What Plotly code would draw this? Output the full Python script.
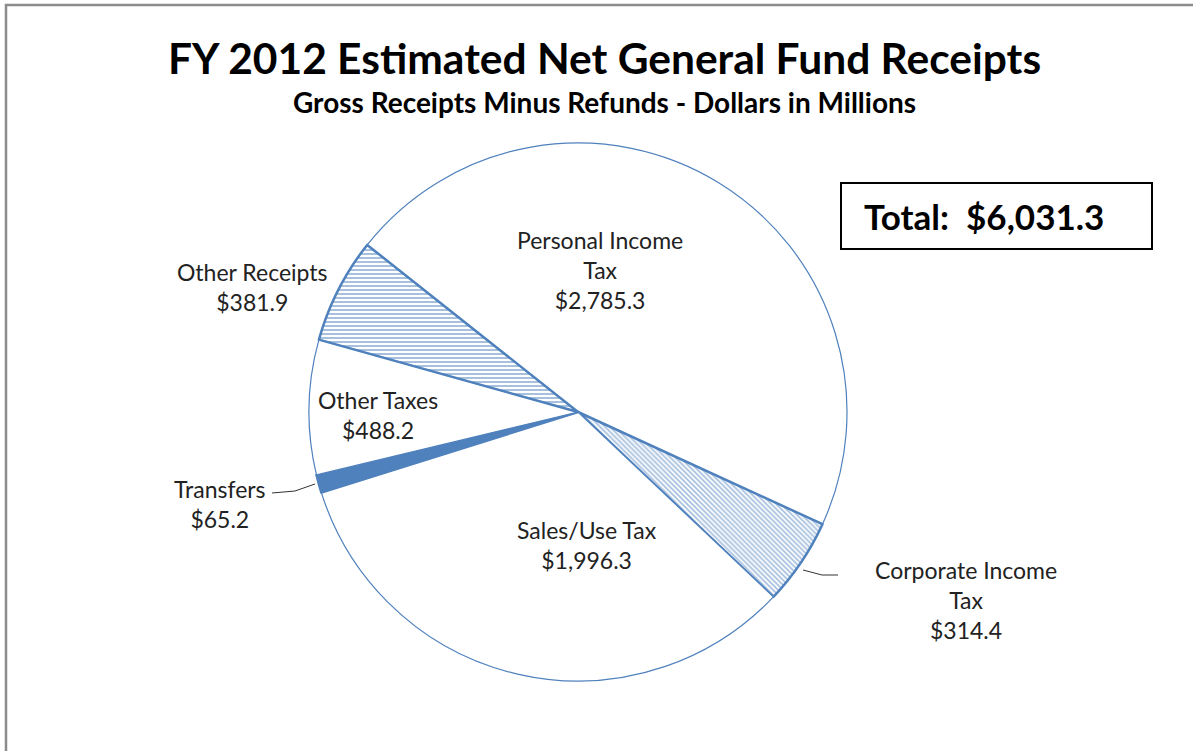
import plotly.graph_objects as go

# Net general fund receipts, $ millions
categories = ["Personal Income Tax", "Corporate Income Tax", "Sales/Use Tax",
              "Transfers", "Other Taxes", "Other Receipts"]
values = [2785.3, 314.4, 1996.3, 65.2, 488.2, 381.9]
total = 6031.3

W, H = 1193, 751
BLUE = "#4F81BD"

def px(x):
    return x / W

def py(y):
    return 1 - y / H

cx, cy, r = 578, 412, 269

fig = go.Figure()
fig.add_trace(go.Pie(
    labels=categories,
    values=values,
    sort=False,
    direction="clockwise",
    rotation=-51.6,
    textinfo="none",
    hoverinfo="label+value",
    showlegend=False,
    domain=dict(x=[px(cx - r), px(cx + r)], y=[py(cy + r), py(cy - r)]),
    marker=dict(
        colors=["white", "white", "white", BLUE, "white", "white"],
        line=dict(color=BLUE, width=[1.2, 2.5, 1.2, 2.5, 1.2, 2.5]),
        pattern=dict(
            shape=["", "\\", "", "", "", "-"],
            fgcolor=BLUE,
            bgcolor="white",
            size=[6, 3.5, 6, 6, 6, 4],
            solidity=0.5,
            fillmode="overlay",
        ),
    ),
))

def fmt(v):
    return "${:,.1f}".format(v)

label_font = dict(family="Lato, Open Sans, sans-serif", size=23, color="#222222")
label_specs = [
    ("Personal Income<br>Tax<br>" + fmt(values[0]), 600, 270),
    ("Corporate Income<br>Tax<br>" + fmt(values[1]), 966, 600),
    ("Sales/Use Tax<br>" + fmt(values[2]), 587, 545),
    ("Transfers<br>" + fmt(values[3]), 220, 504),
    ("Other Taxes<br>" + fmt(values[4]), 378, 415),
    ("Other Receipts<br>" + fmt(values[5]), 252, 287),
]
for text, x, y in label_specs:
    fig.add_annotation(x=px(x), y=py(y), xref="paper", yref="paper", text=text,
                       showarrow=False, align="center", font=label_font,
                       xanchor="center", yanchor="middle")

# leader lines
fig.add_shape(type="path", xref="paper", yref="paper",
              path=f"M {px(272)} {py(493)} L {px(295)} {py(491)} L {px(315)} {py(484)}",
              line=dict(color="#333333", width=1))
fig.add_shape(type="path", xref="paper", yref="paper",
              path=f"M {px(803)} {py(570)} L {px(822)} {py(575)} L {px(838)} {py(575)}",
              line=dict(color="#333333", width=1))

# total box
fig.add_shape(type="rect", xref="paper", yref="paper",
              x0=px(841), x1=px(1152), y0=py(249), y1=py(183),
              line=dict(color="black", width=2), fillcolor="white")
fig.add_annotation(x=px(862), y=py(216), xref="paper", yref="paper",
                   text="<b>Total:  " + "${:,.1f}".format(total) + "</b>",
                   showarrow=False, xanchor="left", yanchor="middle",
                   font=dict(family="Lato, Open Sans, sans-serif", size=35, color="black"))

# chart border
fig.add_shape(type="rect", xref="paper", yref="paper",
              x0=px(6), x1=px(1210), y0=py(770), y1=py(5),
              line=dict(color="#8c8c8c", width=2.5))

# titles
fig.add_annotation(x=px(604), y=py(57), xref="paper", yref="paper",
                   text="<b>FY 2012 Estimated Net General Fund Receipts</b>",
                   showarrow=False, xanchor="center", yanchor="middle",
                   font=dict(family="Lato, Open Sans, sans-serif", size=42.5, color="black"))
fig.add_annotation(x=px(604), y=py(102), xref="paper", yref="paper",
                   text="<b>Gross Receipts Minus Refunds - Dollars in Millions</b>",
                   showarrow=False, xanchor="center", yanchor="middle",
                   font=dict(family="Lato, Open Sans, sans-serif", size=28, color="black"))

fig.update_layout(width=W, height=H, margin=dict(l=0, r=0, t=0, b=0),
                  paper_bgcolor="white", plot_bgcolor="white")

fig.write_html("out.html")
